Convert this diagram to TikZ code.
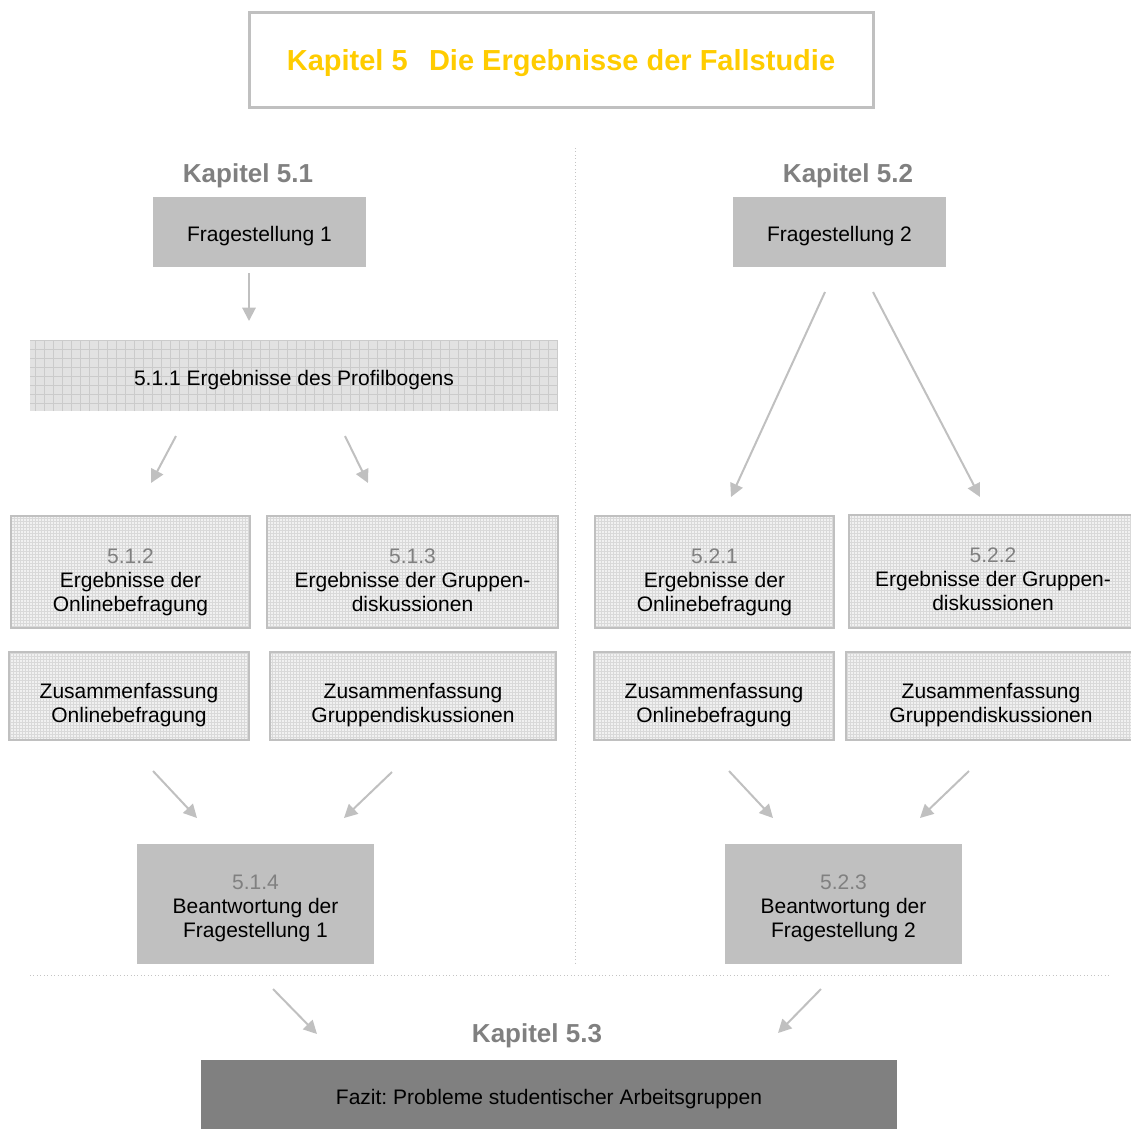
\documentclass[tikz,border=0pt]{standalone}
\usepackage{fontspec}
\setmainfont{Liberation Sans}
\frenchspacing
\usetikzlibrary{arrows.meta}

\definecolor{framegray}{HTML}{C0C0C0}
\definecolor{labelgray}{HTML}{808080}
\definecolor{titleyellow}{HTML}{FFCC00}
\definecolor{dotgray}{HTML}{C4C4C4}
\definecolor{finefill}{HTML}{F1F1F1}
\definecolor{fineline}{HTML}{D9D9D9}
\definecolor{coarsefill}{HTML}{E2E2E2}
\definecolor{coarseline}{HTML}{CBCBCB}

\tikzset{
  sz/.style 2 args={minimum width={#1*0.75pt}, minimum height={#2*0.75pt}},
  % struts: fixed first-line height and last-line depth, so the text sits a little low
  drop/.style 2 args={execute at begin node={\rule{0pt}{#1}},
    execute at end node={\rule[-#2]{0pt}{#2}}},
  lastdepth/.style={execute at end node={\rule[-#1]{0pt}{#1}}},
  body/.style={rectangle, inner sep=0pt, align=center, text=black,
    font=\fontsize{15.75}{18}\selectfont},
  solidbox/.style={body, fill=framegray},
  finegrid/.style={body, fill=finefill, draw=framegray, line width=1.5pt,
    path picture={\draw[fineline, line width=0.3pt, step=2.25pt]
      (path picture bounding box.south west) grid (path picture bounding box.north east);}},
  coarsegrid/.style={body, fill=coarsefill,
    path picture={\draw[coarseline, line width=0.5pt, step=6.75pt]
      (path picture bounding box.south west) grid (path picture bounding box.north east);}},
  chapter/.style={inner sep=0pt, text=labelgray, drop={18.5pt}{4pt},
    font=\bfseries\fontsize{19.5}{22}\selectfont},
  flow/.style={framegray, line width=1.5pt, -{Triangle[length=10pt, width=10pt]}},
  divider/.style={dotgray, line width=0.6pt, dotted},
}
\newcommand{\secno}[1]{\textcolor{labelgray}{#1}}
\newcommand{\headroom}[1]{\rule{0pt}{#1}}

\begin{document}
\begin{tikzpicture}[x=0.75pt, y=-0.75pt]
  \useasboundingbox (0,0) rectangle (1131,1129);

  % title frame
  \node[sz={624}{95}, draw=framegray, line width=2.25pt, text=titleyellow,
        drop={21.6pt}{4.6pt},
        font=\bfseries\fontsize{21.75}{24}\selectfont] (title) at (561,59.5)
        {Kapitel 5\hspace{16pt}Die Ergebnisse der Fallstudie};

  % separators
  \coordinate (vtop) at (575,148);
  \coordinate (vbot) at (575,965);
  \coordinate (hleft) at (30,975);
  \coordinate (hright) at (1110,975);
  \draw[divider] (vtop) -- (vbot);
  \draw[divider] (hleft) -- (hright);

  % chapter headings
  \node[chapter] (k51) at (248,173) {Kapitel 5.1};
  \node[chapter] (k52) at (848,173) {Kapitel 5.2};
  \node[chapter] (k53) at (537,1033) {Kapitel 5.3};

  % research questions
  \node[solidbox, sz={213}{70}, drop={17.4pt}{3.5pt}] (f1) at (259.5,232) {Fragestellung 1};
  \node[solidbox, sz={213}{70}, drop={17.4pt}{3.5pt}] (f2) at (839.5,232) {Fragestellung 2};

  % profile results
  \node[coarsegrid, sz={528}{71}, drop={18.9pt}{3.5pt}] (p511) at (294,375.5)
    {5.1.1 Ergebnisse des Profilbogens};

  % result boxes
  \node[finegrid, sz={239}{112}, lastdepth=3.5pt] (b512) at (130.5,572)
    {\headroom{26.3pt}\secno{5.1.2}\\Ergebnisse der\\Onlinebefragung};
  \node[finegrid, sz={291}{112}, lastdepth=3.5pt] (b513) at (412.5,572)
    {\headroom{26.3pt}\secno{5.1.3}\\Ergebnisse der Gruppen-\\diskussionen};
  \node[finegrid, sz={239}{112}, lastdepth=3.5pt] (b521) at (714.5,572)
    {\headroom{26.3pt}\secno{5.2.1}\\Ergebnisse der\\Onlinebefragung};
  \node[finegrid, sz={288}{113}, lastdepth=3.5pt] (b522) at (993,571.5)
    {\headroom{26.3pt}\secno{5.2.2}\\Ergebnisse der Gruppen-\\diskussionen};

  % summary boxes
  \node[finegrid, sz={240}{88}, lastdepth=3.5pt] (z1) at (129,696)
    {\headroom{24.8pt}Zusammenfassung\\Onlinebefragung};
  \node[finegrid, sz={286}{88}, lastdepth=3.5pt] (z2) at (413,696)
    {\headroom{24.8pt}Zusammenfassung\\Gruppendiskussionen};
  \node[finegrid, sz={240}{88}, lastdepth=3.5pt] (z3) at (714,696)
    {\headroom{24.8pt}Zusammenfassung\\Onlinebefragung};
  \node[finegrid, sz={290}{88}, lastdepth=3.5pt] (z4) at (991,696)
    {\headroom{24.8pt}Zusammenfassung\\Gruppendiskussionen};

  % answers
  \node[solidbox, sz={237}{120}, lastdepth=3.5pt] (a514) at (255.5,904)
    {\headroom{17.3pt}\secno{5.1.4}\\Beantwortung der\\Fragestellung 1};
  \node[solidbox, sz={237}{120}, lastdepth=3.5pt] (a523) at (843.5,904)
    {\headroom{17.3pt}\secno{5.2.3}\\Beantwortung der\\Fragestellung 2};

  % conclusion
  \node[body, fill=labelgray, sz={696}{69}, drop={18.9pt}{3.5pt}]
    (fazit) at (549,1094.5) {Fazit: Probleme studentischer Arbeitsgruppen};

  % arrow end points
  \coordinate (s1) at (249,273);   \coordinate (e1) at (249,321);
  \coordinate (s2) at (176,436);   \coordinate (e2) at (151,483);
  \coordinate (s3) at (345,436);   \coordinate (e3) at (368,483);
  \coordinate (s4) at (825,292);   \coordinate (e4) at (731,497);
  \coordinate (s5) at (873,292);   \coordinate (e5) at (980,497);
  \coordinate (s6) at (153,771);   \coordinate (e6) at (197,818);
  \coordinate (s7) at (392,772);   \coordinate (e7) at (344,818);
  \coordinate (s8) at (729,771);   \coordinate (e8) at (773,818);
  \coordinate (s9) at (969,771);   \coordinate (e9) at (920,818);
  \coordinate (s10) at (273,989);  \coordinate (e10) at (317,1034);
  \coordinate (s11) at (821,989);  \coordinate (e11) at (778,1033);

  \foreach \i in {1,...,11} \draw[flow] (s\i) -- (e\i);
\end{tikzpicture}
\end{document}
